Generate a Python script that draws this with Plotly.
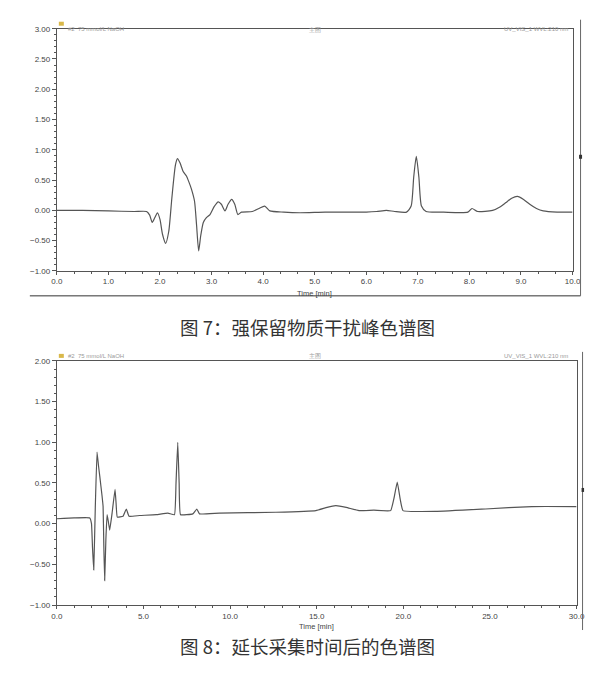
import plotly.graph_objects as go

# ---------- Data: chart 1 (图7), time in min, signal ----------
t1 = [0.0, 0.5, 1.0, 1.5, 1.74, 1.80, 1.85, 1.90, 1.95, 2.00, 2.05, 2.11, 2.17, 2.23, 2.30, 2.34,
      2.39, 2.45, 2.51, 2.56, 2.61, 2.67, 2.71, 2.75, 2.79, 2.84, 2.90, 2.97, 3.05, 3.13, 3.19,
      3.26, 3.32, 3.39, 3.45, 3.51, 3.58, 3.79, 3.92, 4.03, 4.13, 4.4, 4.71, 5.2, 5.7, 6.0, 6.2,
      6.39, 6.55, 6.78, 6.87, 6.92, 6.97, 7.02, 7.07, 7.16, 7.5, 7.97, 8.05, 8.16, 8.45, 8.6,
      8.71, 8.82, 8.93, 9.05, 9.17, 9.30, 9.43, 9.7, 10.0]
v1 = [0.00, 0.00, -0.01, -0.02, -0.02, -0.08, -0.20, -0.12, -0.04, -0.15, -0.40, -0.545, -0.35,
      0.20, 0.75, 0.855, 0.78, 0.64, 0.57, 0.47, 0.35, 0.15, -0.25, -0.67, -0.42, -0.20, -0.12,
      -0.07, 0.06, 0.14, 0.10, -0.01, 0.10, 0.18, 0.10, -0.07, -0.03, -0.02, 0.03, 0.07, -0.01,
      -0.03, -0.04, -0.03, -0.03, -0.03, -0.02, 0.00, -0.02, -0.03, 0.07, 0.55, 0.89, 0.55, 0.07,
      -0.02, -0.03, -0.03, 0.03, -0.02, 0.00, 0.06, 0.13, 0.20, 0.23, 0.18, 0.10, 0.03, -0.01,
      -0.03, -0.03]

# ---------- Data: chart 2 (图8) ----------
t2 = [0.0, 1.0, 1.90, 2.0, 2.06, 2.13, 2.22, 2.32, 2.40, 2.48, 2.61, 2.67, 2.71, 2.76, 2.83, 2.90,
      2.97, 3.05, 3.19, 3.36, 3.42, 3.49, 3.82, 4.01, 4.17, 4.78, 5.74, 6.41, 6.79, 6.88, 6.98,
      7.06, 7.14, 7.85, 8.08, 8.23, 9.38, 12.65, 14.95, 15.6, 16.1, 16.7, 17.44, 18.3, 19.27,
      19.45, 19.65, 19.82, 19.98, 21.86, 24.74, 27.42, 30.0]
v2 = [0.06, 0.07, 0.07, 0.00, -0.30, -0.57, 0.20, 0.88, 0.72, 0.58, 0.34, 0.21, -0.25, -0.70,
      -0.20, 0.11, 0.03, -0.08, 0.13, 0.42, 0.25, 0.08, 0.09, 0.18, 0.09, 0.10, 0.11, 0.13, 0.11,
      0.50, 1.00, 0.50, 0.11, 0.12, 0.18, 0.12, 0.13, 0.14, 0.16, 0.20, 0.22, 0.20, 0.16, 0.165,
      0.16, 0.30, 0.51, 0.30, 0.16, 0.15, 0.18, 0.21, 0.21]

y_ticks = [-1.0, -0.5, 0.0, 0.5, 1.0, 1.5, 2.0, 2.5, 3.0]
caption1 = "图 7：强保留物质干扰峰色谱图"
caption2 = "图 8：延长采集时间后的色谱图"
xtitle = "Time [min]"

# page body has an 8px default margin: size figure to fit inside the window
OFF = 8
W, H = 604 - 2 * OFF, 682 - 2 * OFF
SX, BX = 0.9767, 6.33   # observed screenshot mapping (horizontal)
SY, BY = 0.986, 4.4     # observed screenshot mapping (vertical)
def px(x):
    xi = (x - BX) / SX
    return (xi - OFF) / W
def py(y):
    yi = (y - BY) / SY
    return 1 - (yi - OFF) / H

LINE = "#555555"
AX = "#555555"
TXT = "#444444"
tickfont = dict(family="Liberation Sans, Arial", size=8, color=TXT)

fig = go.Figure()
fig.add_trace(go.Scatter(x=t1, y=v1, mode="lines", xaxis="x", yaxis="y",
                         line=dict(color=LINE, width=1.2, shape="spline", smoothing=0.6),
                         showlegend=False, hoverinfo="skip"))
fig.add_trace(go.Scatter(x=t2, y=v2, mode="lines", xaxis="x2", yaxis="y2",
                         line=dict(color=LINE, width=1.2, shape="spline", smoothing=0.3),
                         showlegend=False, hoverinfo="skip"))

def xax(domain, rng, dtick, minor, anchor):
    return dict(domain=domain, range=rng, dtick=dtick, tick0=0, tickformat=".1f",
                showgrid=False, zeroline=False, showline=True, linecolor=AX, linewidth=1,
                mirror=True, ticks="outside", ticklen=3, tickcolor=AX, tickfont=tickfont,
                minor=dict(dtick=minor, ticks="outside", ticklen=2, tickcolor=AX, showgrid=False),
                anchor=anchor, fixedrange=True)

def yax(domain, rng, anchor):
    return dict(domain=domain, range=rng, tickvals=y_ticks, tickformat=".2f",
                showgrid=False, zeroline=False, showline=True, linecolor=AX, linewidth=1,
                mirror=True, ticks="outside", ticklen=4, tickcolor=AX, tickfont=tickfont,
                minor=dict(dtick=0.1, ticks="outside", ticklen=2, tickcolor=AX, showgrid=False),
                anchor=anchor, fixedrange=True)

fig.update_layout(
    width=W, height=H, margin=dict(l=0, r=0, t=0, b=0),
    paper_bgcolor="white", plot_bgcolor="white",
    xaxis=xax([px(57), px(573)], [0, 10], 1.0, 1/3, "y"),
    yaxis=yax([py(271), py(29)], [-1.0, 3.0], "x"),
    xaxis2=xax([px(57), px(577)], [0, 30], 5.0, 1.0, "y2"),
    yaxis2=yax([py(605), py(361)], [-1.0, 2.0], "x2"),
)

ann = []
ann.append(dict(text=xtitle, x=5, xref="x", y=py(294), yref="paper", showarrow=False,
                font=dict(family="Liberation Sans, Arial", size=7.5, color=TXT)))
ann.append(dict(text=xtitle, x=15, xref="x2", y=py(633), yref="paper", showarrow=False,
                font=dict(family="Liberation Sans, Arial", size=7.5, color=TXT)))
capfont = dict(family="Noto Sans CJK SC", size=18.5, color="#333333")
ann.append(dict(text=caption1, x=px(308), xref="paper", y=py(327), yref="paper",
                showarrow=False, font=capfont))
ann.append(dict(text=caption2, x=px(308), xref="paper", y=py(661), yref="paper",
                showarrow=False, font=capfont))
hdr = dict(family="Liberation Sans, Arial", size=6, color="#9a9a9a")
for ytop in (24, 356):
    ann.append(dict(text="#2  75 mmol/L NaOH", x=px(66), xref="paper", y=py(ytop), yref="paper",
                    xanchor="left", showarrow=False, font=hdr))
    ann.append(dict(text="主图", x=px(315), xref="paper", y=py(ytop), yref="paper",
                    showarrow=False, font=hdr))
    ann.append(dict(text="UV_VIS_1 WVL:210 nm", x=px(570), xref="paper", y=py(ytop), yref="paper",
                    xanchor="right", showarrow=False, font=hdr))
fig.update_layout(annotations=ann)

shapes = []
for ytop in (24, 356):
    shapes.append(dict(type="rect", xref="paper", yref="paper", x0=px(59), x1=px(64),
                       y0=py(ytop + 2), y1=py(ytop - 2), fillcolor="#d9b84a", line=dict(width=0)))
shapes.append(dict(type="line", xref="paper", yref="paper", x0=px(30), x1=px(581),
                   y0=py(296), y1=py(296), line=dict(color="#333333", width=1)))
shapes.append(dict(type="line", xref="paper", yref="paper", x0=px(581), x1=px(581),
                   y0=py(20), y1=py(296), line=dict(color="#666666", width=1)))
shapes.append(dict(type="rect", xref="paper", yref="paper", x0=px(579.5), x1=px(582.5),
                   y0=py(159), y1=py(155), fillcolor="#333333", line=dict(width=0)))
shapes.append(dict(type="line", xref="paper", yref="paper", x0=px(583), x1=px(583),
                   y0=py(352), y1=py(630), line=dict(color="#666666", width=1)))
shapes.append(dict(type="rect", xref="paper", yref="paper", x0=px(582), x1=px(584.5),
                   y0=py(492), y1=py(488), fillcolor="#333333", line=dict(width=0)))
fig.update_layout(shapes=shapes)

fig.write_html("out.html")
